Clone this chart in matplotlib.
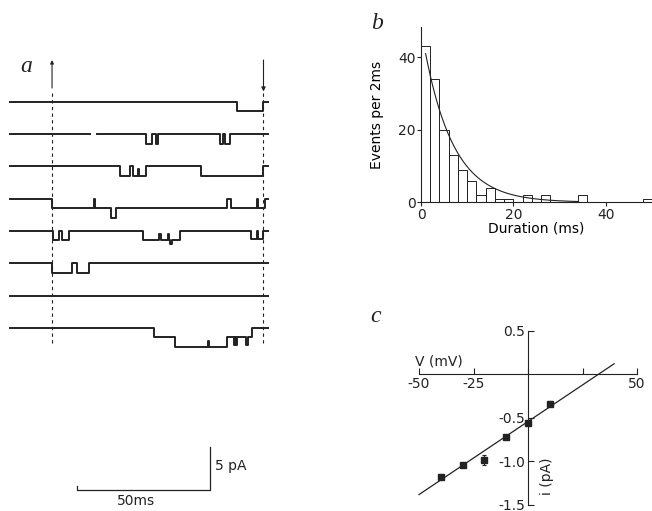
import numpy as np
import matplotlib
matplotlib.use('Agg')
import matplotlib.pyplot as plt

W, H = 652, 511
INK = '#222222'

plt.rcParams['font.family'] = ['DejaVu Sans']
plt.rcParams['font.size'] = 10
plt.rcParams['text.color'] = INK

# ---- panel a: single-channel records, breakpoints (ms, open level) ----
trace_end = 97.0
unit_pa = 1.1          # single-channel amplitude, pA
traces = [
    [(0, 0), (85.3, -1), (95.1, 0)],
    [(0, 0), (30.1, np.nan), (32.7, 0), (51.0, -1), (53.2, 0), (54.9, -1), (55.6, 0),
     (78.9, -1), (80.0, 0), (80.8, -1), (82.7, 0)],
    [(0, 0), (41.4, -1), (45.1, 0), (46.2, -1), (48.0, -0.3), (48.5, -1), (51.2, 0),
     (71.8, -1), (95.1, 0)],
    [(0, 0), (15.8, -1), (31.4, 0), (31.9, -1), (37.9, -2), (39.7, -1), (81.4, 0),
     (82.9, -1), (93.0, 0), (93.4, -1), (96.0, 0)],
    [(0, 0), (16.3, -1), (18.5, 0), (19.4, -1), (22.3, 0), (49.9, -1), (56.2, -0.3),
     (56.6, -1), (59.5, -0.3), (59.9, -1), (60.2, -1.4), (60.8, -1), (63.9, 0),
     (90.5, -0.8), (92.9, 0), (93.3, -0.8), (95.1, 0)],
    [(0, 0), (15.7, -1), (23.3, 0), (25.2, -1), (29.7, 0)],
    [(0, 0)],
    [(0, 0), (54.1, -1), (62.0, -2), (74.3, -1.4), (74.9, -2), (81.6, -1),
     (84.2, -1.8), (84.6, -1), (85.0, -1.8), (85.4, -1), (88.8, -1.8), (89.3, -1),
     (90.9, 0)],
]
pulse_on, pulse_off = 15.8, 95.3
scale_ms, scale_pa = 50, 5

# ---- panel b: open-time histogram ----
bin_width = 2
counts = [43, 34, 20, 13, 9, 6, 2, 4, 1, 1, 0, 2, 0, 2, 0, 0, 0, 2,
          0, 0, 0, 0, 0, 0, 1]
fit_amp, fit_tau = 48.0, 6.3     # events per bin, ms

# ---- panel c: i-V relation ----
volts = [-40, -30, -20, -10, 0, 10]
amps = [-1.18, -1.05, -0.99, -0.72, -0.56, -0.34]
amp_err = [0.03, 0.02, 0.06, 0.02, 0.03, 0.03]
slope, v_rev = 0.0168, 32.5      # pA/mV, mV


def px_axes(fig, left, top, right, bottom):
    return fig.add_axes([left / W, 1 - bottom / H, (right - left) / W, (bottom - top) / H])


fig = plt.figure(figsize=(W / 100, H / 100), dpi=100)
fig.patch.set_facecolor('white')

# panel a
PX_MS, PX_PA, X0, Y0 = 2.66, 8.6, 10, 102
ax_a = px_axes(fig, 0, 40, 300, 511)
ax_a.set_xlim((0 - X0) / PX_MS, (300 - X0) / PX_MS)
ax_a.set_ylim(-(511 - Y0) / PX_PA, (Y0 - 40) / PX_PA)
ax_a.axis('off')
spacing = 3.75
for k, tr in enumerate(traces):
    t = [p[0] for p in tr] + [trace_end]
    y = [p[1] * unit_pa - k * spacing for p in tr]
    y = y + [y[-1]]
    ax_a.step(t, y, where='post', color=INK, lw=1.4)
for tp in (pulse_on, pulse_off):
    ax_a.plot([tp, tp], [1.05, -28.0], color=INK, lw=0.8, ls=(0, (3, 3)))
ax_a.annotate('', xy=(pulse_on, 5.2), xytext=(pulse_on, 1.3),
              arrowprops=dict(arrowstyle='-|>', color=INK, lw=0.8, mutation_scale=5))
ax_a.annotate('', xy=(pulse_off, 0.9), xytext=(pulse_off, 5.2),
              arrowprops=dict(arrowstyle='-|>', color=INK, lw=0.8, mutation_scale=6))
sx, sy = 25.2, -45.1
ax_a.plot([sx, sx, sx + scale_ms, sx + scale_ms], [sy + 0.4, sy, sy, sy + scale_pa],
          color=INK, lw=0.9)
ax_a.text(sx + scale_ms + 2.0, sy + 2.8, '5 pA', ha='left', va='center')
ax_a.text(sx + 22, sy - 1.3, '50ms', ha='center', va='center')
fig.text(20 / W, 1 - 66 / H, 'a', family='Liberation Serif', style='italic',
         fontsize=17, ha='left', va='center')

# panel b
ax_b = px_axes(fig, 421, 27, 652, 202.3)
edges = np.arange(len(counts)) * bin_width
ax_b.bar(edges, counts, width=bin_width, align='edge', fill=False,
         edgecolor=INK, lw=0.7)
tt = np.linspace(1, 34, 200)
ax_b.plot(tt, fit_amp * np.exp(-tt / fit_tau), color=INK, lw=0.8)
ax_b.set_xlim(0, 50)
ax_b.set_ylim(0, 48.3)
ax_b.set_xticks([0, 20, 40])
ax_b.set_yticks([0, 20, 40])
for s in ('top', 'right'):
    ax_b.spines[s].set_visible(False)
for s in ('left', 'bottom'):
    ax_b.spines[s].set_color(INK)
    ax_b.spines[s].set_linewidth(0.8)
ax_b.tick_params(colors=INK, length=3, width=0.8, labelsize=10, pad=1)
ax_b.set_xlabel('Duration (ms)', labelpad=0)
ax_b.set_ylabel('Events per 2ms', labelpad=10)
ax_b.set_facecolor('none')
fig.text(377 / W, 1 - 23 / H, 'b', family='Liberation Serif', style='italic',
         fontsize=17, ha='center', va='center')

# panel c
XC, YC, PXV, PXI = 528, 374, 2.18, 87
ax_c = px_axes(fig, 400, 320, 652, 511)
ax_c.set_xlim((400 - XC) / PXV, (652 - XC) / PXV)
ax_c.set_ylim((YC - 511) / PXI, (YC - 320) / PXI)
for s in ('top', 'right'):
    ax_c.spines[s].set_visible(False)
ax_c.spines['left'].set_position(('data', 0))
ax_c.spines['bottom'].set_position(('data', 0))
ax_c.spines['left'].set_bounds(-1.5, 0.5)
ax_c.spines['bottom'].set_bounds(-50, 50)
for s in ('left', 'bottom'):
    ax_c.spines[s].set_color(INK)
    ax_c.spines[s].set_linewidth(0.8)
ax_c.set_xticks([-50, -25, 0, 25, 50])
ax_c.set_xticklabels(['-50', '-25', '', '', '50'])
ax_c.set_yticks([0.5, -0.5, -1.0, -1.5])
ax_c.set_yticklabels(['0.5', '-0.5', '-1.0', '-1.5'])
ax_c.tick_params(axis='x', direction='in', length=4, width=0.8, colors=INK, labelsize=10, pad=2)
ax_c.tick_params(axis='y', direction='in', length=4, width=0.8, colors=INK, labelsize=10, pad=2)
vv = np.array([-50, 39.5])
ax_c.plot(vv, slope * (vv - v_rev), color=INK, lw=0.9)
ax_c.errorbar(volts, amps, yerr=amp_err, fmt='s', color=INK, ms=4, capsize=1.5,
              elinewidth=0.8, capthick=0.8)
ax_c.text(-40.8, 0.14, 'V (mV)', ha='center', va='center')
ax_c.text(8.6, -1.18, 'i (pA)', rotation=90, ha='center', va='center')
ax_c.set_facecolor('none')
fig.text(376 / W, 1 - 316 / H, 'c', family='Liberation Serif', style='italic',
         fontsize=17, ha='center', va='center')

fig.savefig('out.png', dpi=100, facecolor='white')
